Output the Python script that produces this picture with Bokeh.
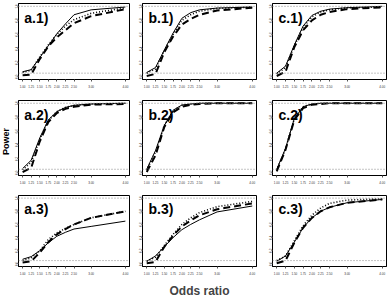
import math
from bokeh.plotting import figure
from bokeh.layouts import gridplot, row
from bokeh.models import Span, Label, Range1d, FixedTicker, NumeralTickFormatter
from bokeh.core.properties import value
from bokeh.embed import file_html
from bokeh.resources import INLINE

odds = [1.00, 1.25, 1.50, 1.75, 2.00, 2.25, 2.50, 3.00, 4.00]
x_ticks = [1.00, 1.25, 1.50, 1.75, 2.00, 2.25, 2.50, 3.00, 4.00]
y_ticks = [0.0, 0.2, 0.4, 0.6, 0.8, 1.0]
ref_levels = [0.05, 1.0]

panel_names = ["a.1)", "b.1)", "c.1)", "a.2)", "b.2)", "c.2)", "a.3)", "b.3)", "c.3)"]
y_title = "Power"
x_title = "Odds ratio"

a1_solid = [0.07, 0.10, 0.27, 0.44, 0.61, 0.75, 0.88, 0.95, 0.99]
a1_dotted = [0.06, 0.09, 0.28, 0.45, 0.60, 0.72, 0.81, 0.90, 0.98]
a1_dashed = [0.02, 0.03, 0.25, 0.43, 0.56, 0.66, 0.76, 0.86, 0.96]

b1_solid = [0.06, 0.13, 0.38, 0.62, 0.83, 0.91, 0.95, 0.975, 0.99]
b1_dotted = [0.05, 0.11, 0.37, 0.60, 0.80, 0.88, 0.93, 0.97, 0.99]
b1_dashed = [0.01, 0.04, 0.35, 0.57, 0.74, 0.82, 0.88, 0.94, 0.98]

c1_solid = [0.05, 0.15, 0.45, 0.72, 0.87, 0.93, 0.96, 0.98, 1.00]
c1_dotted = [0.04, 0.13, 0.44, 0.70, 0.85, 0.92, 0.95, 0.98, 0.99]
c1_dashed = [0.01, 0.07, 0.42, 0.66, 0.80, 0.88, 0.92, 0.96, 0.985]

a2_solid = [0.06, 0.18, 0.50, 0.76, 0.88, 0.94, 0.97, 0.99, 1.00]
a2_dotted = [0.04, 0.15, 0.48, 0.75, 0.88, 0.94, 0.97, 0.99, 1.00]
a2_dashed = [0.01, 0.07, 0.45, 0.73, 0.86, 0.92, 0.95, 0.98, 0.99]

b2_solid = [0.05, 0.32, 0.68, 0.90, 0.975, 0.99, 1.00, 1.00, 1.00]
b2_dotted = [0.04, 0.30, 0.68, 0.89, 0.97, 0.99, 1.00, 1.00, 1.00]
b2_dashed = [0.01, 0.25, 0.66, 0.87, 0.95, 0.98, 0.99, 1.00, 1.00]

c2_solid = [0.05, 0.35, 0.78, 0.95, 0.99, 1.00, 1.00, 1.00, 1.00]
c2_dotted = [0.04, 0.34, 0.78, 0.95, 0.99, 1.00, 1.00, 1.00, 1.00]
c2_dashed = [0.02, 0.33, 0.76, 0.93, 0.98, 0.99, 1.00, 1.00, 1.00]

a3_solid = [0.07, 0.11, 0.20, 0.32, 0.42, 0.48, 0.53, 0.57, 0.65]
a3_dotted = [0.05, 0.09, 0.20, 0.37, 0.47, 0.54, 0.60, 0.70, 0.80]
a3_dashed = [0.02, 0.04, 0.17, 0.33, 0.45, 0.53, 0.60, 0.70, 0.80]

b3_solid = [0.04, 0.12, 0.26, 0.40, 0.52, 0.60, 0.67, 0.79, 0.88]
b3_dotted = [0.04, 0.10, 0.28, 0.45, 0.60, 0.70, 0.78, 0.87, 0.95]
b3_dashed = [0.01, 0.03, 0.26, 0.43, 0.57, 0.66, 0.74, 0.83, 0.92]

c3_solid = [0.04, 0.12, 0.33, 0.55, 0.70, 0.80, 0.86, 0.93, 0.98]
c3_dotted = [0.05, 0.12, 0.35, 0.58, 0.74, 0.85, 0.92, 0.97, 0.99]
c3_dashed = [0.01, 0.05, 0.32, 0.55, 0.70, 0.80, 0.86, 0.93, 0.98]

series = [
    (a1_solid, a1_dotted, a1_dashed), (b1_solid, b1_dotted, b1_dashed), (c1_solid, c1_dotted, c1_dashed),
    (a2_solid, a2_dotted, a2_dashed), (b2_solid, b2_dotted, b2_dashed), (c2_solid, c2_dotted, c2_dashed),
    (a3_solid, a3_dotted, a3_dashed), (b3_solid, b3_dotted, b3_dashed), (c3_solid, c3_dotted, c3_dashed),
]

POWER_W = 11
col_w = [119, 130, 131]
col_left = [5, 12, 12]
col_right = [1, 4, 5]
row_h = [95, 95, 110]
row_top = [3, 5, 5]
row_bottom = [16, 15, 30]

FONT = "Liberation Sans"

figs = []
for r in range(3):
    row_figs = []
    for c in range(3):
        i = r * 3 + c
        p = figure(width=col_w[c], height=row_h[r], output_backend="svg", toolbar_location=None,
                   x_range=Range1d(0.88, 4.12), y_range=Range1d(-0.04, 1.04),
                   min_border_left=col_left[c], min_border_right=col_right[c],
                   min_border_top=row_top[r], min_border_bottom=row_bottom[r])
        p.background_fill_color = "white"
        p.border_fill_color = "white"
        p.outline_line_color = "black"
        p.outline_line_width = 1
        p.xgrid.visible = False
        p.ygrid.visible = False
        for ax in (p.xaxis[0], p.yaxis[0]):
            ax.major_label_text_font = FONT
            ax.major_label_text_font_size = "3px"
            ax.major_label_text_color = "#333333"
            ax.major_tick_out = 1
            ax.major_tick_in = 0
            ax.minor_tick_out = 0
            ax.minor_tick_in = 0
            ax.major_label_standoff = 0
            ax.axis_line_color = "black"
            ax.major_tick_line_color = "#555555"
        p.xaxis.major_tick_out = 2
        p.xaxis.major_label_standoff = 3
        p.xaxis.ticker = FixedTicker(ticks=x_ticks)
        p.xaxis.formatter = NumeralTickFormatter(format="0.00")
        p.yaxis.ticker = FixedTicker(ticks=y_ticks)
        p.yaxis.formatter = NumeralTickFormatter(format="0.0")
        p.yaxis.major_label_orientation = "vertical"

        for lev in ref_levels:
            p.add_layout(Span(location=lev, dimension="width", line_color="#888888",
                              line_dash="1 2", line_width=1))

        s_solid, s_dotted, s_dashed = series[i]
        p.line(odds, s_solid, line_color="black", line_width=1)
        p.line(odds, s_dotted, line_color="black", line_width=1.6, line_dash="1 2")
        p.line(odds, s_dashed, line_color="black", line_width=2, line_dash="7 4")

        p.add_layout(Label(x=1.05, y=0.83, text=panel_names[i], text_font=FONT,
                           text_font_style="bold", text_font_size="14px",
                           text_baseline="middle", text_align="left", text_color="black"))

        if r == 2 and c == 1:
            p.xaxis.axis_label = x_title
            p.xaxis.axis_label_text_font = FONT
            p.xaxis.axis_label_text_font_style = "bold"
            p.xaxis.axis_label_text_font_size = "12px"
            p.xaxis.axis_label_standoff = 6
        row_figs.append(p)
    figs.append(row_figs)

grid = gridplot(figs, toolbar_location=None)

# narrow strip holding the rotated y title
pw = figure(width=POWER_W, height=300, output_backend="svg", toolbar_location=None,
            x_range=Range1d(0, 1), y_range=Range1d(0, 1),
            min_border_left=0, min_border_right=0, min_border_top=0, min_border_bottom=0)
pw.axis.visible = False
pw.grid.visible = False
pw.outline_line_color = None
pw.background_fill_color = "white"
pw.border_fill_color = "white"
pw.text(x=[0.5], y=[0.53], text=[y_title], angle=math.pi / 2,
        text_font=value(FONT), text_font_style="bold", text_font_size="9px",
        text_align="center", text_baseline="middle", text_color="black")

layout = row(pw, grid)
open("out.html", "w").write(file_html(layout, INLINE))
